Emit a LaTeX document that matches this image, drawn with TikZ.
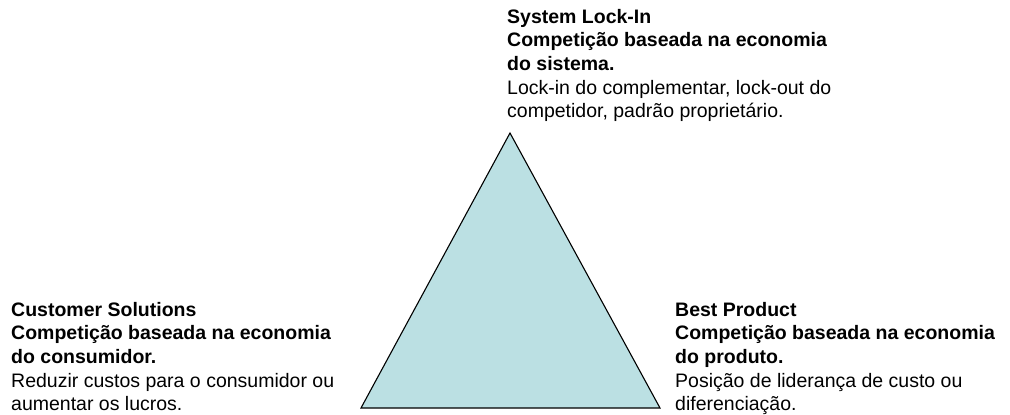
\documentclass[tikz,border=0pt]{standalone}
\usepackage{fontspec}
\setmainfont{Liberation Sans}
\definecolor{trifill}{HTML}{BBE0E3}
\begin{document}
\begin{tikzpicture}[x=1pt,y=-1pt,
  blocktext/.style={anchor=north west, inner sep=0pt, align=left,
    font=\fontsize{19.5}{23.6}\selectfont},
  tri/.style={fill=trifill, draw=black, line width=1.1pt, line join=miter}]
  \useasboundingbox (0,0) rectangle (1010,415);
  \fill[white] (0,0) rectangle (1010,415);
  % triangle corners
  \coordinate (apex) at (510,133);
  \coordinate (bl) at (361,408);
  \coordinate (br) at (660,408);
  \draw[tri] (apex) -- (br) -- (bl) -- cycle;
  % corner captions
  \node[blocktext] (lockin) at (507,9) {\textbf{System Lock-In}\\
    \textbf{Competição baseada na economia}\\
    \textbf{do sistema.}\\
    Lock-in do complementar, lock-out do\\
    competidor, padrão proprietário.};
  \node[blocktext] (customer) at (11,302) {\textbf{Customer Solutions}\\
    \textbf{Competição baseada na economia}\\
    \textbf{do consumidor.}\\
    Reduzir custos para o consumidor ou\\
    aumentar os lucros.};
  \node[blocktext] (product) at (675,302) {\textbf{Best Product}\\
    \textbf{Competição baseada na economia}\\
    \textbf{do produto.}\\
    Posição de liderança de custo ou\\
    diferenciação.};
\end{tikzpicture}
\end{document}
